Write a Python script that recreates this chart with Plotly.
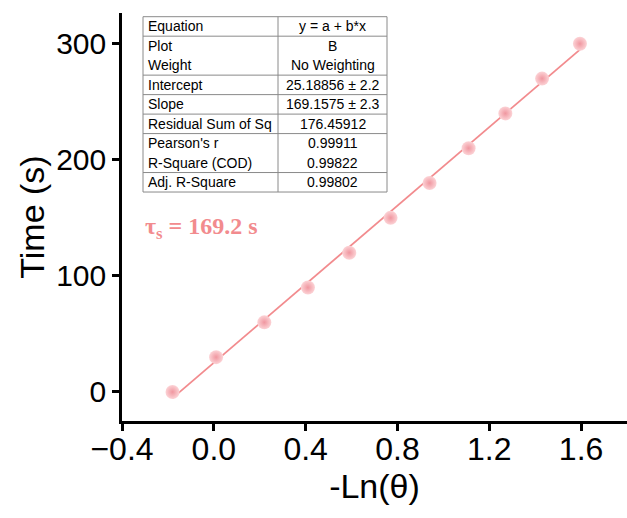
import plotly.graph_objects as go

# ---- data ----
neg_ln_theta = [-0.18, 0.01, 0.22, 0.41, 0.59, 0.77, 0.94, 1.11, 1.27, 1.43, 1.595]
time_s = [0, 30, 60, 90, 120, 150, 180, 210, 240, 270, 300]

intercept = 25.18856
slope = 169.1575

table_labels = ["Equation", "Plot", "Weight", "Intercept", "Slope",
                "Residual Sum of Sq", "Pearson's r", "R-Square (COD)", "Adj. R-Square"]
table_values = ["y = a + b*x", "B", "No Weighting", "25.18856 ± 2.2", "169.1575 ± 2.3",
                "176.45912", "0.99911", "0.99822", "0.99802"]
row_lines_after = [0, 2, 3, 4, 5, 7]  # horizontal rules below these rows

x_range = [-0.4, 1.8]
y_range = [-25, 326.5]
x_ticks = [-0.4, 0.0, 0.4, 0.8, 1.2, 1.6]
y_ticks = [0, 100, 200, 300]

# ---- layout geometry (pixels) ----
W, H = 627, 518
ML, MR, MT, MB = 122, 0, 13, 97
PW, PH = W - ML - MR, H - MT - MB


def px(xp):
    return (xp - ML) / PW


def py(yp):
    return (H - MB - yp) / PH


fit_x = [min(neg_ln_theta), max(neg_ln_theta)]
fit_y = [intercept + slope * v for v in fit_x]

line_color = "#F28B8E"

fig = go.Figure()
fig.add_trace(go.Scatter(
    x=fit_x, y=fit_y, mode="lines",
    line=dict(color=line_color, width=1.8), showlegend=False, hoverinfo="skip"))
fig.add_trace(go.Scatter(
    x=neg_ln_theta, y=time_s, mode="markers",
    marker=dict(size=14, color="#FCD3D6",
                gradient=dict(type="radial", color="#F097A0"),
                line=dict(width=0)),
    showlegend=False))

# ---- table ----
t_left, t_mid, t_right = 143, 278, 387
t_top, unit = 16.7, 19.48
shapes = []
gray = "#8a8a8a"
t_bottom = t_top + 9 * unit
shapes.append(dict(type="rect", xref="paper", yref="paper",
                   x0=px(t_left), x1=px(t_right), y0=py(t_bottom), y1=py(t_top),
                   line=dict(color=gray, width=1), fillcolor="white", layer="above"))
shapes.append(dict(type="line", xref="paper", yref="paper",
                   x0=px(t_mid), x1=px(t_mid), y0=py(t_bottom), y1=py(t_top),
                   line=dict(color=gray, width=1)))
for r in row_lines_after:
    yy = t_top + (r + 1) * unit
    shapes.append(dict(type="line", xref="paper", yref="paper",
                       x0=px(t_left), x1=px(t_right), y0=py(yy), y1=py(yy),
                       line=dict(color=gray, width=1)))

annotations = []
tfont = dict(family="Liberation Sans, Arial", size=14, color="black")
for i, (lab, val) in enumerate(zip(table_labels, table_values)):
    yc = t_top + (i + 0.5) * unit
    annotations.append(dict(xref="paper", yref="paper", x=px(t_left + 3), y=py(yc),
                            text=lab, showarrow=False, xanchor="left", yanchor="middle",
                            font=tfont))
    annotations.append(dict(xref="paper", yref="paper", x=px((t_mid + t_right) / 2), y=py(yc),
                            text=val, showarrow=False, xanchor="center", yanchor="middle",
                            font=tfont))

annotations.append(dict(xref="paper", yref="paper", x=px(143), y=py(228),
                        text="<b>τ<sub>s</sub> = 169.2 s</b>", showarrow=False,
                        xanchor="left", yanchor="middle",
                        font=dict(family="Liberation Serif, Times New Roman", size=24,
                                  color=line_color)))

xtick_font = dict(family="Liberation Sans, Arial", size=32, color="black")
ytick_font = dict(family="Liberation Sans, Arial", size=30, color="black")
title_font = dict(family="Liberation Sans, Arial", size=34, color="black")
fig.update_layout(
    width=W, height=H,
    margin=dict(l=ML, r=MR, t=MT, b=MB, autoexpand=False),
    paper_bgcolor="white", plot_bgcolor="white",
    shapes=shapes, annotations=annotations,
    xaxis=dict(range=x_range, tickvals=x_ticks, ticktext=[f"{v:.1f}".replace("-", "−") for v in x_ticks],
               showgrid=False, zeroline=False, showline=True, linecolor="black", linewidth=2.5,
               ticks="outside", ticklen=7, tickwidth=2.5, tickcolor="black",
               tickfont=xtick_font, ticklabelstandoff=-9,
               title=dict(text="-Ln(θ)", font=title_font, standoff=9)),
    yaxis=dict(range=y_range, tickvals=y_ticks,
               showgrid=False, zeroline=False, showline=True, linecolor="black", linewidth=2.5,
               ticks="outside", ticklen=7, tickwidth=2.5, tickcolor="black",
               tickfont=ytick_font,
               title=dict(text="Time (s)", font=title_font, standoff=2)),
)

fig.write_html("out.html")
